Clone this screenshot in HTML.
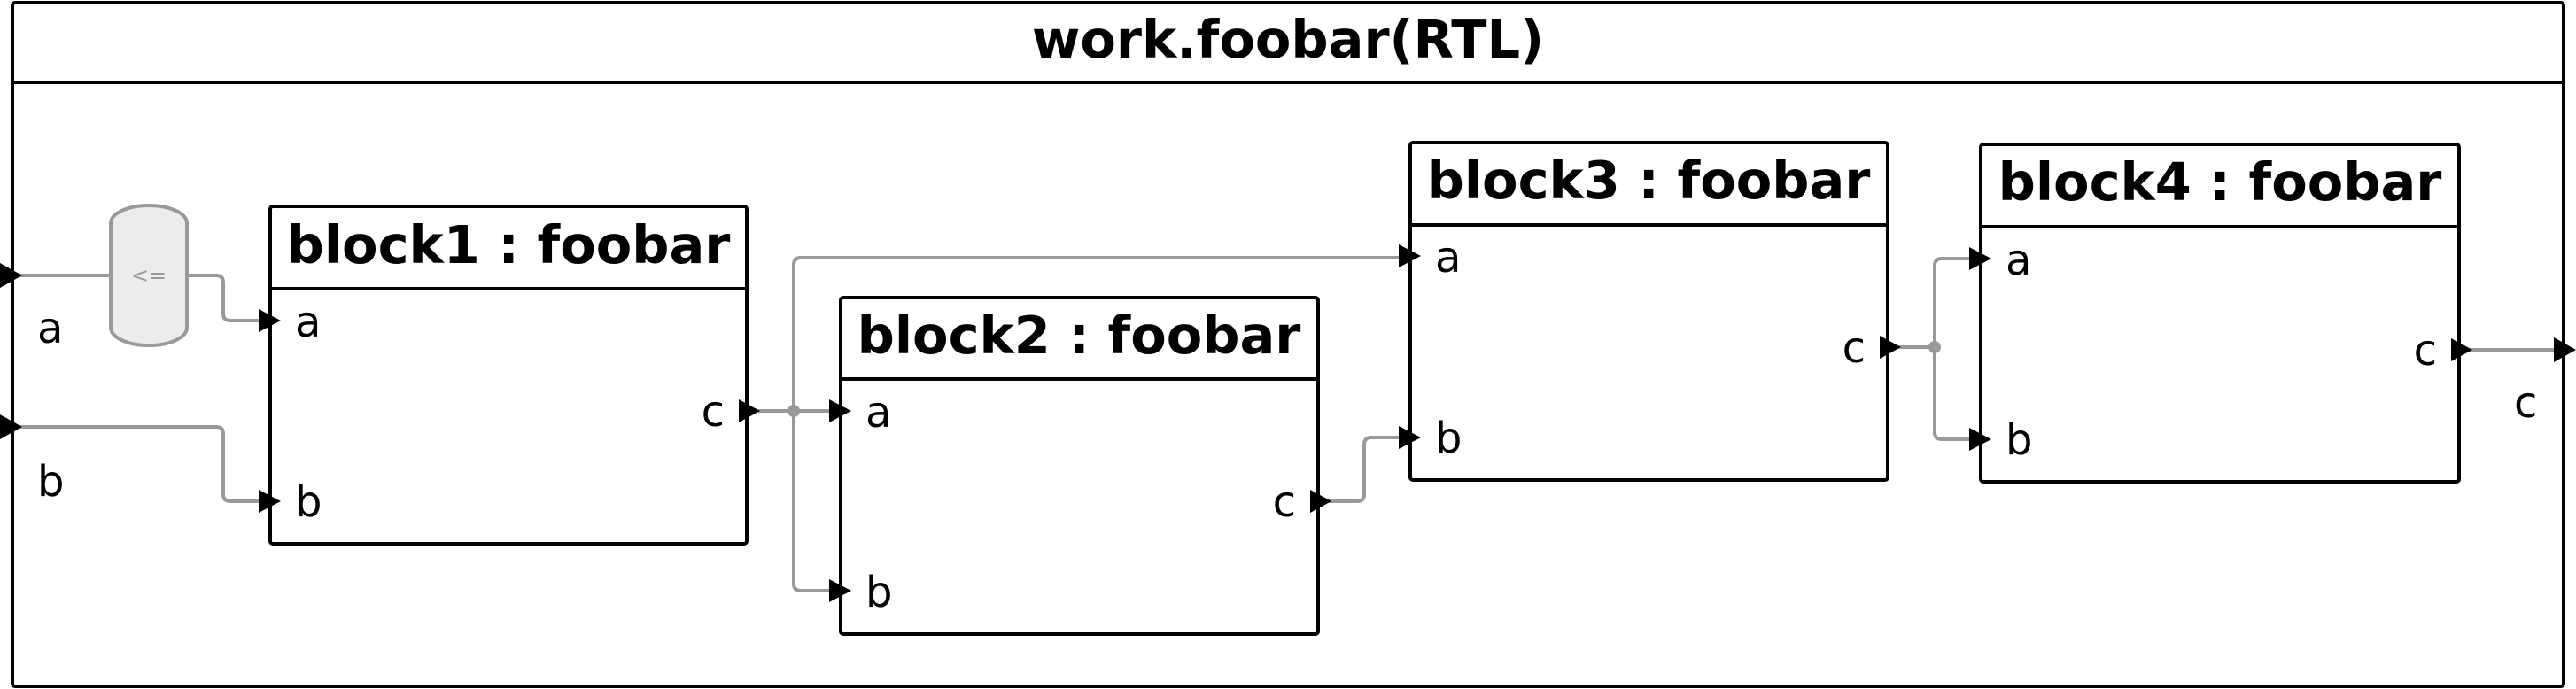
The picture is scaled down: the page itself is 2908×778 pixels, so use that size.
<!DOCTYPE html>
<html><head><meta charset="utf-8"><style>
html,body{margin:0;padding:0;background:#fff;}
svg{display:block;}
text{font-family:"DejaVu Sans","Liberation Sans",sans-serif;}
.t{font-weight:bold;font-size:59px;fill:#000;}
.l{font-size:48px;fill:#000;}
.box{fill:#fff;stroke:#000;stroke-width:4;}
.w{fill:none;stroke:#999;stroke-width:4;stroke-linejoin:round;}
</style></head><body>
<svg width="2908" height="778" viewBox="0 0 2908 778" xmlns="http://www.w3.org/2000/svg">
<!-- frame -->
<rect x="14" y="3" width="2880" height="772" rx="3" fill="#fff" stroke="#000" stroke-width="4"/>
<line x1="14" y1="93" x2="2894" y2="93" stroke="#000" stroke-width="4"/>
<text class="t" x="1454" y="65" text-anchor="middle">work.foobar(RTL)</text>

<!-- wires -->
<path class="w" d="M20 311 H125"/>
<path class="w" d="M211 311 H244 Q252 311 252 319 V354 Q252 362 260 362 H292"/>
<path class="w" d="M20 482 H244 Q252 482 252 490 V558 Q252 566 260 566 H292"/>
<path class="w" d="M856 464 H936"/>
<path class="w" d="M896 464 V299 Q896 291 904 291 H1580"/>
<path class="w" d="M896 464 V659 Q896 667 904 667 H936"/>
<circle cx="896" cy="464" r="7" fill="#999"/>
<path class="w" d="M1500 566 H1532 Q1540 566 1540 558 V502 Q1540 494 1548 494 H1580"/>
<path class="w" d="M2143 392 H2184"/>
<path class="w" d="M2184 392 V300 Q2184 292 2192 292 H2224"/>
<path class="w" d="M2184 392 V488 Q2184 496 2192 496 H2224"/>
<circle cx="2184" cy="392" r="7" fill="#999"/>
<path class="w" d="M2788 395 H2890"/>

<!-- mux -->
<path d="M125 252 A43 20 0 0 1 211 252 V370 A43 20 0 0 1 125 370 Z" fill="#ececec" stroke="#999" stroke-width="4"/>
<text x="168" y="319" text-anchor="middle" font-size="24" fill="#999">&lt;=</text>

<!-- external ports -->
<polygon points="0,297 25,311 0,325" fill="#000"/>
<polygon points="0,468 25,482 0,496" fill="#000"/>
<text class="l" x="42" y="387">a</text>
<text class="l" x="42" y="560">b</text>
<polygon points="2883,381 2908,395 2883,409" fill="#000"/>
<text class="l" x="2838" y="471">c</text>

<!-- block1 -->
<rect class="box" x="305" y="233" width="538" height="381" rx="3"/>
<line x1="305" y1="326" x2="843" y2="326" stroke="#000" stroke-width="4"/>
<text class="t" x="574" y="297" text-anchor="middle">block1 : foobar</text>
<polygon points="292,349 317,362 292,375"/><text class="l" x="333" y="380">a</text>
<polygon points="292,553 317,566 292,579"/><text class="l" x="333" y="583">b</text>
<polygon points="834,451 858,464 834,477"/><text class="l" x="818" y="481" text-anchor="end">c</text>

<!-- block2 -->
<rect class="box" x="949" y="336" width="539" height="380" rx="3"/>
<line x1="949" y1="428" x2="1488" y2="428" stroke="#000" stroke-width="4"/>
<text class="t" x="1218" y="399" text-anchor="middle">block2 : foobar</text>
<polygon points="936,451 961,464 936,477"/><text class="l" x="977" y="482">a</text>
<polygon points="936,654 961,667 936,680"/><text class="l" x="977" y="685">b</text>
<polygon points="1479,553 1503,566 1479,579"/><text class="l" x="1463" y="583" text-anchor="end">c</text>

<!-- block3 -->
<rect class="box" x="1592" y="161" width="539" height="381" rx="3"/>
<line x1="1592" y1="254" x2="2131" y2="254" stroke="#000" stroke-width="4"/>
<text class="t" x="1861" y="224" text-anchor="middle">block3 : foobar</text>
<polygon points="1579,276 1604,289 1579,302"/><text class="l" x="1620" y="307">a</text>
<polygon points="1579,481 1604,494 1579,507"/><text class="l" x="1620" y="511">b</text>
<polygon points="2122,379 2146,392 2122,405"/><text class="l" x="2106" y="409" text-anchor="end">c</text>

<!-- block4 -->
<rect class="box" x="2236" y="163" width="540" height="381" rx="3"/>
<line x1="2236" y1="256" x2="2776" y2="256" stroke="#000" stroke-width="4"/>
<text class="t" x="2506" y="226" text-anchor="middle">block4 : foobar</text>
<polygon points="2223,279 2248,292 2223,305"/><text class="l" x="2264" y="310">a</text>
<polygon points="2223,483 2248,496 2223,509"/><text class="l" x="2264" y="513">b</text>
<polygon points="2767,382 2791,395 2767,408"/><text class="l" x="2751" y="412" text-anchor="end">c</text>
</svg>
</body></html>
